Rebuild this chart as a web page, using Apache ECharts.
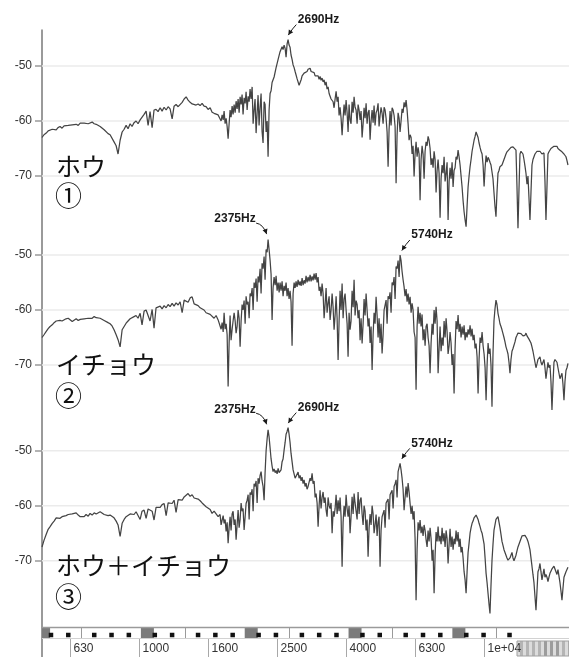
<!DOCTYPE html>
<html>
<head>
<meta charset="utf-8">
<title>spectrum</title>
<script src="https://cdn.jsdelivr.net/npm/echarts@6.0.0/dist/echarts.min.js"></script>
<style>
html,body{margin:0;padding:0;background:#ffffff;}
#chart{width:569px;height:657px;}
</style>
</head>
<body>
<div id="chart"></div>
<script>
// ---- data ----
const freqs = [523,530,538,545,552,560,567,575,582,590,
598,606,614,623,631,640,648,657,666,675,
684,693,702,712,721,731,741,751,761,771,
781,792,802,813,824,835,846,858,869,881,
893,905,917,929,942,954,967,980,993,1007,
1020,1034,1048,1062,1076,1091,1105,1120,1135,1151,
1166,1182,1198,1214,1230,1247,1263,1280,1298,1315,
1333,1351,1369,1387,1406,1425,1444,1463,1483,1503,
1523,1543,1564,1585,1607,1628,1650,1672,1695,1717,
1741,1764,1788,1812,1836,1861,1886,1911,1937,1963,
1989,2016,2043,2071,2098,2127,2155,2184,2213,2243,
2273,2304,2335,2366,2398,2430,2463,2496,2530,2563,
2598,2633,2668,2704,2740,2777,2815,2852,2891,2930,
2969,3009,3049,3090,3132,3174,3217,3260,3304,3348,
3393,3439,3485,3532,3579,3628,3676,3726,3776,3826,
3878,3930,3983,4036,4090,4146,4201,4258,4315,4373,
4432,4491,4552,4613,4675,4738,4801,4866,4931,4997,
5065,5133,5202,5272,5342,5415,5487,5561,5636,5711,
5788,5866,5945,6025,6106,6188,6271,6355,6441,6527,
6615,6704,6794,6885,6978,7072,7167,7263,7361,7459,
7560,7662,7765,7869,7974,8082,8190,8300,8412,8525,
8640,8756,8874,8993,9113,9236,9360,9486,9613,9742,
9874,10007,10141,10277,10409,10549,10690,10834,10980,11127,
11277,11429,11582,11738,11895,12056,12218,12382,12548,12716,
12888,13061,13236,13414,13594,13777,13962,14150,14340,14532,
14728,14926,15126,15329,15535,15744,15956,16170,16387,16608,
16832,17058,17288,17520];

const levelsHou = [-63.0,-62.5,-62.2,-61.8,-62.0,-61.5,-61.2,-61.6,-61.2,-61.0,
-61.3,-60.9,-61.2,-60.8,-61.0,-60.7,-60.9,-60.6,-60.8,-60.4,
-60.6,-60.4,-60.3,-60.5,-60.4,-60.2,-60.5,-60.6,-60.9,-61.0,
-61.3,-61.6,-61.9,-62.3,-62.5,-62.8,-63.8,-64.5,-66.0,-63.5,
-62.0,-61.5,-60.8,-61.4,-60.5,-61.0,-60.3,-60.0,-60.5,-59.8,
-59.5,-58.8,-58.2,-60.8,-58.3,-61.2,-58.0,-57.9,-58.3,-57.6,
-58.2,-57.5,-58.0,-57.4,-57.8,-59.6,-57.3,-57.0,-57.4,-57.6,
-56.6,-56.0,-55.6,-56.2,-56.6,-56.9,-56.6,-57.1,-56.9,-57.2,
-56.8,-57.3,-57.4,-57.9,-57.6,-58.4,-58.6,-58.3,-58.9,-58.6,
-58.9,-58.2,-59.5,-63.2,-58.0,-57.3,-57.0,-56.4,-56.0,-55.6,
-55.2,-55.8,-54.7,-55.5,-54.2,-53.8,-58.0,-62.2,-55.3,-57.5,
-61.9,-56.5,-62.0,-66.5,-55.0,-53.0,-52.0,-50.3,-48.8,-47.4,
-46.5,-46.2,-48.4,-45.2,-46.6,-48.8,-50.3,-51.3,-52.6,-53.3,
-51.8,-51.3,-51.0,-50.6,-50.4,-50.7,-51.2,-51.5,-51.8,-51.9,
-52.2,-52.5,-52.9,-53.8,-55.0,-56.3,-57.6,-54.6,-55.6,-57.5,
-62.6,-57.0,-56.2,-62.0,-59.8,-56.5,-55.6,-58.0,-57.0,-59.8,
-63.0,-57.6,-56.8,-58.5,-63.4,-58.0,-57.2,-58.5,-56.8,-59.0,
-58.6,-57.5,-59.5,-68.3,-58.2,-57.6,-59.0,-71.3,-58.5,-62.0,
-57.8,-56.6,-56.2,-60.5,-62.5,-66.0,-70.1,-63.8,-64.8,-74.4,
-64.5,-70.5,-63.8,-62.8,-65.0,-66.8,-65.5,-73.0,-67.0,-77.6,
-68.0,-66.5,-69.5,-78.0,-68.5,-67.5,-69.0,-66.5,-65.3,-68.0,
-72.0,-76.5,-79.2,-72.0,-68.3,-65.5,-63.5,-62.0,-63.0,-64.8,
-66.0,-71.9,-66.3,-66.6,-67.5,-68.3,-73.0,-77.4,-69.5,-68.3,
-68.0,-67.0,-66.0,-65.3,-65.0,-64.7,-64.8,-65.3,-79.5,-66.0,
-65.3,-67.0,-69.5,-70.0,-78.0,-68.0,-66.5,-65.8,-65.3,-65.5,
-66.0,-65.8,-78.0,-66.0,-65.3,-65.0,-64.6,-64.4,-65.0,-65.3,
-65.6,-66.0,-66.5,-68.0];

const levelsIcho = [-65.0,-64.5,-63.9,-63.4,-63.0,-62.7,-62.3,-62.0,-61.7,-61.9,
-62.0,-61.8,-61.6,-61.5,-61.8,-62.1,-61.9,-61.6,-61.9,-61.7,
-61.9,-61.6,-61.8,-61.5,-61.3,-61.5,-61.2,-61.4,-61.6,-61.5,
-61.7,-61.9,-62.1,-62.3,-62.5,-62.9,-63.6,-64.5,-65.4,-66.7,
-63.6,-63.0,-62.4,-62.0,-61.6,-61.9,-61.2,-61.0,-61.5,-60.6,
-62.7,-60.2,-60.0,-59.7,-62.0,-59.9,-63.3,-59.6,-59.9,-59.3,
-59.8,-59.2,-59.6,-59.0,-59.4,-58.8,-59.3,-58.7,-59.1,-58.5,
-60.5,-58.2,-58.0,-58.6,-57.8,-57.6,-58.9,-58.8,-59.2,-59.6,
-59.5,-60.0,-60.5,-60.3,-60.8,-61.1,-61.5,-61.0,-61.8,-61.5,
-62.3,-60.5,-62.5,-73.9,-61.0,-63.5,-60.5,-64.2,-60.0,-66.7,
-59.0,-58.3,-57.5,-58.5,-57.0,-56.0,-55.0,-54.3,-53.9,-52.5,
-51.5,-50.3,-49.0,-47.2,-51.0,-61.8,-54.0,-53.8,-55.0,-55.0,
-54.8,-55.6,-55.0,-56.0,-56.5,-66.5,-55.0,-54.8,-54.5,-54.8,
-54.2,-54.6,-53.8,-54.0,-53.6,-53.9,-53.4,-53.3,-54.0,-55.8,
-55.2,-61.5,-56.0,-58.8,-61.8,-57.0,-63.6,-57.5,-69.1,-56.5,
-55.2,-58.0,-60.0,-68.5,-63.6,-56.5,-54.5,-58.3,-61.5,-65.5,
-66.1,-58.0,-57.0,-63.0,-66.0,-70.9,-60.5,-57.6,-65.0,-66.0,
-67.9,-60.0,-58.2,-57.5,-56.8,-55.0,-54.0,-52.1,-51.0,-50.0,
-53.0,-55.8,-56.2,-57.0,-57.6,-58.8,-64.0,-74.5,-59.4,-60.5,
-60.8,-63.5,-63.0,-65.0,-71.5,-62.5,-60.0,-59.4,-71.5,-63.0,
-65.0,-62.0,-61.5,-68.0,-64.0,-70.0,-75.2,-62.0,-60.9,-62.5,
-63.0,-62.8,-64.0,-63.5,-62.8,-63.4,-64.5,-66.1,-75.2,-65.0,
-64.0,-68.0,-76.4,-66.0,-67.0,-77.6,-62.0,-58.2,-60.6,-62.5,
-63.6,-65.0,-66.7,-68.0,-71.5,-67.5,-66.7,-65.0,-64.2,-64.0,
-64.2,-64.5,-64.2,-64.8,-65.5,-66.7,-68.5,-70.5,-69.0,-68.5,
-70.0,-69.0,-72.5,-69.5,-70.0,-78.2,-69.5,-68.8,-70.5,-72.5,
-71.5,-76.4,-71.0,-69.7];

const levelsMix = [-67.5,-66.3,-65.2,-64.3,-63.8,-63.2,-62.8,-62.2,-62.0,-62.3,
-62.0,-62.2,-61.8,-61.6,-61.9,-61.5,-61.7,-61.3,-61.7,-62.0,
-61.7,-62.0,-61.6,-61.9,-61.4,-61.7,-61.3,-61.5,-61.2,-61.1,
-61.4,-61.6,-61.4,-61.8,-61.7,-62.0,-62.2,-62.8,-63.5,-65.6,
-63.2,-62.5,-62.0,-61.8,-61.5,-61.3,-61.6,-61.1,-61.4,-62.5,
-61.0,-60.8,-62.3,-60.6,-60.5,-61.0,-62.6,-60.3,-60.1,-60.3,
-59.8,-59.6,-61.8,-59.5,-59.3,-59.6,-59.0,-61.2,-58.9,-58.7,
-59.0,-58.4,-58.1,-57.8,-58.3,-58.0,-58.6,-58.4,-58.8,-59.1,
-59.5,-59.7,-60.2,-60.5,-60.7,-61.4,-61.0,-61.2,-62.0,-61.6,
-62.6,-63.2,-64.7,-66.8,-62.0,-61.5,-63.5,-66.2,-60.8,-62.5,
-61.0,-64.4,-59.6,-58.0,-57.6,-57.0,-56.0,-55.5,-55.0,-54.5,
-55.5,-59.0,-50.0,-46.2,-49.5,-52.8,-53.3,-53.6,-53.2,-53.8,
-52.0,-49.9,-47.0,-45.8,-48.5,-52.0,-53.8,-54.7,-53.9,-54.5,
-54.8,-55.3,-55.9,-56.5,-55.0,-54.1,-55.5,-57.8,-63.8,-57.2,
-58.5,-59.5,-60.8,-58.5,-60.5,-65.0,-62.0,-58.0,-59.0,-58.5,
-71.1,-60.0,-58.0,-62.0,-65.0,-58.4,-57.8,-61.0,-57.5,-59.0,
-61.5,-60.0,-64.5,-69.3,-61.5,-60.0,-65.0,-61.6,-63.0,-71.1,
-62.0,-60.8,-59.5,-58.8,-58.0,-57.2,-56.5,-55.3,-53.8,-52.3,
-55.0,-60.8,-56.5,-55.9,-59.6,-60.0,-61.0,-77.2,-63.0,-62.6,
-63.8,-63.5,-66.2,-64.5,-64.0,-70.0,-75.9,-64.8,-63.8,-65.5,
-64.0,-65.0,-64.5,-70.5,-64.2,-65.6,-66.0,-64.5,-64.8,-66.0,
-67.5,-72.0,-75.9,-68.5,-65.0,-63.2,-62.2,-61.7,-62.5,-63.8,
-65.0,-67.0,-72.3,-76.0,-79.6,-70.0,-64.5,-62.5,-62.0,-64.0,
-66.5,-68.0,-68.7,-69.9,-69.5,-68.5,-70.0,-69.0,-67.5,-66.5,
-65.5,-65.3,-65.5,-66.5,-68.0,-71.0,-74.0,-79.0,-72.0,-70.5,
-73.5,-71.5,-72.5,-73.8,-72.3,-71.5,-71.0,-72.0,-71.6,-74.0,
-77.2,-73.0,-72.0,-71.2];

const freqsFine = [1729,1753,1776,1800,1824,1848,1873,1899,1924,1950,
1976,2002,2030,2057,2085,2112,2141,2169,2199,2228,
2258,2288,2319,2351,2382,2414,2446,2480,2513,2547,
2580,2615,2651,2686,2722,2758,2796,2834,2871,2910,
2950,2989,3029,3069,3111,3153,3195,3239,3282,3326,
3370,3416,3462,3508,3556,3603,3652,3701,3751,3801,
3852,3904,3956,4010,4063,4117,4174,4229,4287,4344,
4402,4462,4521,4582,4644,4706,4770,4833,4899,4964,
5030,5099,5167,5237,5307,5378,5451,5524,5598,5674,
5749,5827,5905,5985,6065,6147,6229,6313,6398,6484,
6571,6659,6749,6840,6931,7025,7119,7215,7312,7410,
7509,7611,7713,7817,7922,8027,8136,8245,8356,8468,
8582,8698,8815,8933,9053,9174,9298,9423,9550,9677,
9807,9940,10074,10209,10346,10479,10620,10762,10907,11054,
11202,11353,11506,11660,11817,11975,12137,12300,12465,12632,
12801,12974,13149,13325,13504,13685,13869,14056,14245,14436,
14629,14827,15026,15227,15432,15639,15849,16063,16278,16497,
16719,16945,17172,17404];

const levelsHouFine = [-60.0,-59.8,-60.5,-61.0,-60.5,-59.3,-58.8,-58.5,-57.8,-58.5,
-57.0,-58.8,-56.8,-58.0,-56.5,-56.0,-60.5,-56.0,-58.5,-60.8,
-55.0,-64.0,-57.0,-60.0,-58.0,-54.5,-53.0,-51.8,-50.0,-48.5,
-47.5,-47.0,-46.8,-46.0,-46.2,-48.0,-49.8,-51.0,-52.3,-53.5,
-52.5,-52.0,-51.5,-51.0,-50.9,-51.0,-51.3,-51.8,-52.1,-52.4,
-52.6,-52.9,-53.5,-54.2,-55.0,-56.0,-56.5,-56.0,-56.5,-59.0,
-59.5,-59.5,-59.0,-58.5,-57.0,-60.5,-58.5,-57.5,-60.5,-58.0,
-58.2,-60.5,-59.5,-60.5,-58.0,-60.0,-60.3,-60.8,-58.0,-61.0,
-57.5,-60.5,-58.0,-62.0,-61.5,-60.8,-58.0,-61.0,-62.5,-59.5,
-60.0,-58.5,-57.5,-58.0,-63.5,-63.0,-64.5,-66.0,-66.5,-66.0,
-67.0,-66.0,-65.5,-64.5,-63.5,-68.0,-68.5,-67.0,-69.0,-69.5,
-70.5,-69.5,-71.0,-67.5,-71.0,-70.5,-72.0,-68.5,-67.0,-66.5,
-70.0,-74.5,-78.0,-75.5,-70.0,-67.0,-64.5,-62.8,-62.5,-64.0,
-65.5,-68.0,-68.5,-67.5,-67.0,-68.0,-70.5,-75.5,-73.0,-69.0,
-68.2,-67.5,-66.5,-65.6,-65.2,-64.8,-64.7,-65.0,-72.0,-72.5,
-65.5,-66.0,-68.2,-71.5,-74.0,-73.0,-67.0,-66.0,-65.5,-65.3,
-65.7,-66.2,-71.0,-72.0,-65.6,-65.0,-64.8,-64.5,-64.6,-65.1,
-65.4,-65.8,-66.3,-67.2];

const levelsIchoFine = [-63.5,-64.0,-63.5,-64.5,-66.0,-65.5,-62.0,-62.0,-63.0,-61.5,
-62.0,-60.0,-62.5,-59.0,-61.5,-57.5,-60.0,-56.0,-58.5,-55.0,
-57.0,-52.5,-54.5,-49.5,-49.0,-53.5,-56.0,-55.5,-56.5,-56.8,
-56.5,-57.5,-56.5,-57.5,-58.0,-58.5,-57.0,-56.0,-55.8,-55.5,
-55.6,-55.5,-55.2,-55.0,-54.8,-54.8,-54.6,-54.5,-55.0,-56.5,
-57.5,-57.0,-59.0,-60.5,-57.5,-60.0,-59.5,-61.0,-61.5,-62.0,
-60.0,-61.5,-57.0,-62.5,-60.5,-62.0,-59.5,-61.0,-59.0,-60.0,
-61.5,-62.5,-61.0,-60.0,-61.5,-63.0,-64.5,-62.5,-61.0,-61.5,
-62.5,-64.5,-60.0,-62.5,-58.0,-60.5,-55.5,-58.0,-52.5,-54.0,
-51.0,-54.5,-57.5,-58.5,-59.0,-60.5,-60.0,-65.0,-63.0,-62.5,
-63.0,-65.5,-66.5,-62.5,-66.5,-66.0,-64.5,-62.5,-62.0,-67.0,
-67.5,-66.5,-65.0,-64.0,-66.5,-66.0,-68.0,-67.0,-63.5,-64.0,
-65.0,-64.5,-65.5,-65.0,-64.5,-64.8,-65.5,-67.0,-68.5,-69.0,
-66.0,-66.5,-70.5,-70.0,-68.0,-70.0,-68.0,-59.8,-59.0,-61.5,
-63.0,-64.3,-65.8,-67.3,-69.5,-69.0,-67.0,-65.8,-64.6,-64.4,
-64.3,-64.7,-64.6,-64.7,-65.3,-66.0,-67.5,-69.5,-69.8,-69.0,
-69.5,-70.0,-70.5,-71.0,-70.5,-73.0,-73.5,-69.0,-69.5,-71.5,
-72.0,-73.5,-73.0,-70.5];

const levelsMixFine = [-63.5,-61.8,-62.5,-63.0,-64.0,-64.5,-61.0,-62.5,-63.5,-64.0,
-59.5,-60.5,-62.0,-59.0,-62.5,-58.0,-61.0,-56.5,-59.5,-56.0,
-53.8,-56.5,-54.0,-47.8,-47.5,-51.5,-53.8,-54.0,-54.2,-54.0,
-53.5,-51.5,-48.5,-46.5,-47.0,-50.5,-53.5,-55.0,-54.8,-55.0,
-55.5,-56.0,-56.5,-57.0,-56.5,-55.5,-56.0,-58.5,-59.5,-60.0,
-60.5,-57.5,-58.5,-62.0,-60.0,-59.5,-61.0,-60.5,-61.5,-61.0,
-62.0,-63.0,-62.0,-60.5,-60.0,-62.0,-61.5,-59.5,-62.5,-61.5,
-58.5,-63.5,-61.0,-62.5,-64.0,-63.5,-61.5,-63.5,-65.5,-62.0,
-64.5,-62.0,-64.0,-59.5,-62.5,-58.0,-60.5,-56.0,-58.5,-54.0,
-53.5,-57.0,-58.5,-58.5,-57.5,-61.5,-62.5,-66.0,-68.0,-64.5,
-65.0,-65.5,-64.5,-67.5,-66.5,-66.0,-68.0,-69.0,-66.5,-66.5,
-67.0,-66.5,-67.5,-66.0,-67.0,-67.5,-68.0,-67.0,-66.5,-67.5,
-68.5,-69.5,-73.5,-72.0,-66.8,-64.0,-62.8,-62.0,-62.0,-63.2,
-64.5,-66.0,-69.5,-74.0,-78.0,-74.5,-67.0,-63.5,-62.2,-63.0,
-65.2,-67.2,-68.5,-69.5,-70.2,-69.0,-69.5,-70.0,-68.2,-67.0,
-66.0,-65.3,-65.4,-66.0,-67.2,-69.5,-72.5,-76.5,-75.5,-71.5,
-72.0,-72.5,-73.0,-73.0,-73.0,-72.0,-71.3,-71.5,-72.5,-72.8,
-75.5,-75.0,-72.5,-71.6];

const yTickValues = [-70, -60, -50];
const xTickValues = [631, 1000, 1585, 2512, 3981, 6310, 10000];
const xTickLabels = ['630', '1000', '1600', '2500', '4000', '6300', '1e+04'];

const peakFreqsHou = [2690];
const peakLevelsHou = [-45.2];
const peakFreqsIcho = [2375, 5740];
const peakLevelsIcho = [-47.2, -50.0];
const peakFreqsMix = [2375, 2690, 5740];
const peakLevelsMix = [-46.2, -45.8, -52.3];

const panelTitles = ['ホウ', 'イチョウ', 'ホウ＋イチョウ'];
const panelMarks = ['①', '②', '③'];

const cKeyFreqs = [523.3, 1046.5, 2093.0, 4186.0, 8372.0];
const blackKeyFreqs = [554.4, 622.3, 740.0, 830.6, 932.3, 1108.7, 1244.5, 1480.0, 1661.2, 1864.7,
  2217.5, 2489.0, 2960.0, 3322.4, 3729.3, 4434.9, 4978.0, 5919.9, 6644.9, 7458.6, 8869.8, 9956.1, 11839.8];
const efBoundFreqs = [678.6, 1357.1, 2714.3, 5428.6, 10857.2];

// ---- layout / style ----
const X_MIN = 523, X_MAX = 17640, Y_MIN = -80, Y_MAX = -43.5;
const PANEL_TOPS = [30.25, 219.25, 414.95];
const PANEL_H = 200.75;
const KB_TOP = 615.7, KB_H = 41.3;
const TITLE_Y = [166, 364, 565];
const MARK_Y = [196, 396, 597];
const AXIS_COLOR = '#9a9a9a';
const LINE_COLOR = '#444444';
const LABEL_FONT = 'Liberation Sans, Arial, sans-serif';

function mergeSeries(fa, va, fb, vb) {
  const pts = fa.map((f, k) => [f, va[k]]).concat(fb.map((f, k) => [f, vb[k]]));
  pts.sort((a, b) => a[0] - b[0]);
  return pts;
}

const chart = echarts.init(document.getElementById('chart'), null, {renderer: 'canvas', width: 569, height: 657});

const panelData = [
  mergeSeries(freqs, levelsHou, freqsFine, levelsHouFine),
  mergeSeries(freqs, levelsIcho, freqsFine, levelsIchoFine),
  mergeSeries(freqs, levelsMix, freqsFine, levelsMixFine)
];
const grids = [], xAxes = [], yAxes = [], series = [];

panelData.forEach((pts, i) => {
  grids.push({left: 42, top: PANEL_TOPS[i], width: 527, height: PANEL_H, containLabel: false, outerBoundsMode: 'none'});
  xAxes.push({gridIndex: i, type: 'log', logBase: 10, min: X_MIN, max: X_MAX, show: false});
  yAxes.push({
    gridIndex: i, type: 'value', min: Y_MIN, max: Y_MAX,
    axisLine: {show: true, onZero: false, lineStyle: {color: AXIS_COLOR, width: 2}},
    axisTick: {show: true, length: 7, customValues: yTickValues, lineStyle: {color: AXIS_COLOR, width: 1.5}},
    axisLabel: {show: true, customValues: yTickValues, margin: 10, color: '#333', fontSize: 12, fontFamily: LABEL_FONT,
      formatter: v => (yTickValues.indexOf(v) >= 0 ? String(v) : '')},
    splitLine: {show: false}
  });
  series.push({
    type: 'custom', xAxisIndex: i, yAxisIndex: i, z: 1, silent: true, animation: false,
    data: yTickValues.map(v => [X_MIN, v]), encode: {x: 0, y: 1},
    renderItem: (params, api) => {
      const cs = params.coordSys;
      const y = api.coord([api.value(0), api.value(1)])[1];
      return {type: 'line', shape: {x1: cs.x, y1: y, x2: cs.x + cs.width, y2: y}, style: {stroke: '#ebebeb', lineWidth: 1.5}};
    }
  });
  series.push({
    type: 'line', xAxisIndex: i, yAxisIndex: i, z: 2, silent: true, animation: false,
    data: pts, showSymbol: false, symbol: 'none',
    lineStyle: {color: LINE_COLOR, width: 1.25}
  });
});

grids.push({left: 42, top: KB_TOP, width: 527, height: KB_H, containLabel: false, outerBoundsMode: 'none'});
xAxes.push({gridIndex: 3, type: 'log', logBase: 10, min: X_MIN, max: X_MAX, show: false});
yAxes.push({gridIndex: 3, type: 'value', min: 0, max: 1,
  axisLine: {show: true, onZero: false, lineStyle: {color: AXIS_COLOR, width: 2}},
  axisTick: {show: false}, axisLabel: {show: false}, splitLine: {show: false}});

function kbSeries(list, render, clip) {
  return {type: 'custom', xAxisIndex: 3, yAxisIndex: 3, silent: true, animation: false, clip: clip,
    data: list.map(f => [f, 0.5]), encode: {x: 0, y: 1}, renderItem: render};
}
series.push(kbSeries(cKeyFreqs, (params, api) => {
  const cs = params.coordSys; const x = api.coord([api.value(0), 0.5])[0];
  return {type: 'rect', shape: {x: x - 5, y: cs.y + 12.3, width: 13, height: 10}, style: {fill: '#7b7b7b'}};
}, true));
series.push(kbSeries(efBoundFreqs, (params, api) => {
  const cs = params.coordSys; const x = Math.round(api.coord([api.value(0), 0.5])[0]) + 0.5;
  return {type: 'line', shape: {x1: x, y1: cs.y + 12.3, x2: x, y2: cs.y + 22.3}, style: {stroke: '#9a9a9a', lineWidth: 1}};
}, true));
series.push(kbSeries(blackKeyFreqs, (params, api) => {
  const cs = params.coordSys; const x = api.coord([api.value(0), 0.5])[0];
  return {type: 'rect', shape: {x: x - 2, y: cs.y + 17, width: 4.5, height: 4.5}, style: {fill: '#111'}};
}, true));
series.push(kbSeries(xTickValues, (params, api) => {
  const cs = params.coordSys; const x = Math.round(api.coord([api.value(0), 0.5])[0]) + 0.5;
  return {type: 'group', children: [
    {type: 'line', shape: {x1: x, y1: cs.y + 22.5, x2: x, y2: cs.y + KB_H}, style: {stroke: '#a8a8a8', lineWidth: 1}},
    {type: 'text', style: {text: xTickLabels[params.dataIndex], x: x + 3, y: cs.y + 32.5, fill: '#333',
      font: '12px ' + LABEL_FONT, align: 'left', verticalAlign: 'middle', textAlign: 'left', textVerticalAlign: 'middle'}}
  ]};
}, false));

chart.setOption({
  animation: false,
  backgroundColor: '#ffffff',
  grid: grids, xAxis: xAxes, yAxis: yAxes, series: series
});

const gfx = [];
gfx.push({type: 'line', silent: true, z: 50, shape: {x1: 42, y1: 627.5, x2: 569, y2: 627.5}, style: {stroke: '#9a9a9a', lineWidth: 1.5}});
gfx.push({type: 'line', silent: true, z: 50, shape: {x1: 42, y1: 638.5, x2: 569, y2: 638.5}, style: {stroke: '#d2d2d2', lineWidth: 1}});
const stripes = [];
for (let s = 0; s < 18; s++) {
  stripes.push({type: 'rect', shape: {x: 517 + s * 3, y: 641, width: 3, height: 15},
    style: {fill: (s % 2 === 0) ? '#dcdcdc' : ((s > 7 && s < 14) ? '#9c9c9c' : '#b4b4b4')}});
}
gfx.push({type: 'group', silent: true, z: 60, children: stripes});
gfx.push({type: 'rect', silent: true, z: 61, shape: {x: 517, y: 641, width: 52, height: 15}, style: {fill: 'none', stroke: '#a0a0a0', lineWidth: 1}});

panelTitles.forEach((t, i) => {
  gfx.push({type: 'text', silent: true, z: 70, style: {text: t, x: 56, y: TITLE_Y[i], fill: '#111',
    font: '25px "Noto Sans CJK JP", sans-serif', align: 'left', verticalAlign: 'middle', textAlign: 'left', textVerticalAlign: 'middle'}});
  gfx.push({type: 'text', silent: true, z: 70, style: {text: panelMarks[i], x: 55, y: MARK_Y[i], fill: '#111',
    font: '27px "Noto Sans CJK JP", sans-serif', align: 'left', verticalAlign: 'middle', textAlign: 'left', textVerticalAlign: 'middle'}});
});

const peakSets = [[peakFreqsHou, peakLevelsHou], [peakFreqsIcho, peakLevelsIcho], [peakFreqsMix, peakLevelsMix]];
peakSets.forEach((set, i) => {
  set[0].forEach((f, k) => {
    const p = chart.convertToPixel({xAxisIndex: i, yAxisIndex: i}, [f, set[1][k]]);
    const left = f < 2500;
    let sx, sy, cx, cy, tx, ty, lx, ly, align;
    if (left) {
      sx = p[0] - 12.5; sy = p[1] - 16.5; cx = p[0] - 5.5; cy = p[1] - 15.5; tx = p[0] - 2; ty = p[1] - 5.5;
      lx = p[0] - 13; ly = p[1] - 20.5; align = 'right';
    } else {
      sx = p[0] + 9; sy = p[1] - 15; cx = p[0] + 5.5; cy = p[1] - 11.5; tx = p[0] + 1; ty = p[1] - 4.5;
      lx = p[0] + 10.5; ly = p[1] - 20; align = 'left';
    }
    gfx.push({type: 'bezierCurve', silent: true, z: 80, shape: {x1: sx, y1: sy, x2: tx, y2: ty, cpx1: cx, cpy1: cy},
      style: {stroke: '#1a1a1a', lineWidth: 1, fill: 'none'}});
    let dx = tx - cx, dy = ty - cy; const len = Math.sqrt(dx * dx + dy * dy); dx /= len; dy /= len;
    const bx = tx - dx * 5, by = ty - dy * 5;
    gfx.push({type: 'polygon', silent: true, z: 80, shape: {points: [[tx, ty], [bx - dy * 2.6, by + dx * 2.6], [bx + dy * 2.6, by - dx * 2.6]]},
      style: {fill: '#1a1a1a'}});
    gfx.push({type: 'text', silent: true, z: 80, style: {text: f + 'Hz', x: lx, y: ly, fill: '#1a1a1a',
      font: 'bold 12px ' + LABEL_FONT, align: align, verticalAlign: 'middle', textAlign: align, textVerticalAlign: 'middle'}});
  });
});

chart.setOption({graphic: gfx});
</script>
</body>
</html>
